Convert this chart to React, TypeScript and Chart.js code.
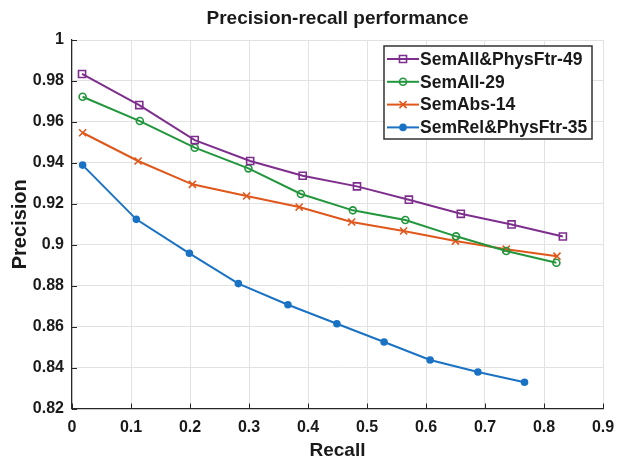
import React, { useEffect, useRef } from 'react';
import { Chart, registerables } from 'chart.js';
import { drawPoint } from 'chart.js/helpers';

Chart.register(...registerables);

const chartTitle = 'Precision-recall performance';
const xAxisLabel = 'Recall';
const yAxisLabel = 'Precision';

const xTicks = [0, 0.1, 0.2, 0.3, 0.4, 0.5, 0.6, 0.7, 0.8, 0.9];
const yTicks = [0.82, 0.84, 0.86, 0.88, 0.9, 0.92, 0.94, 0.96, 0.98, 1];

const seriesNames = ['SemAll&PhysFtr-49', 'SemAll-29', 'SemAbs-14', 'SemRel&PhysFtr-35'];
const seriesColors = ['#7E2F8E', '#22963C', '#E0571B', '#1A72C4'];

const semAllPhysRecall = [0.017, 0.114, 0.208, 0.302, 0.391, 0.483, 0.571, 0.659, 0.745, 0.832];
const semAllPhysPrecision = [0.9834, 0.9682, 0.9511, 0.9409, 0.9337, 0.9285, 0.922, 0.9151, 0.9099, 0.904];

const semAllRecall = [0.018, 0.115, 0.208, 0.299, 0.388, 0.476, 0.565, 0.651, 0.736, 0.821];
const semAllPrecision = [0.9723, 0.9604, 0.9474, 0.9373, 0.9248, 0.9168, 0.9121, 0.9041, 0.8969, 0.8912];

const semAbsRecall = [0.018, 0.112, 0.204, 0.296, 0.385, 0.474, 0.562, 0.65, 0.736, 0.822];
const semAbsPrecision = [0.9547, 0.9409, 0.9295, 0.9238, 0.9184, 0.9111, 0.9067, 0.9018, 0.8978, 0.8944];

const semRelPhysRecall = [0.018, 0.109, 0.199, 0.282, 0.366, 0.449, 0.529, 0.607, 0.688, 0.767];
const semRelPhysPrecision = [0.9389, 0.9124, 0.8958, 0.881, 0.8707, 0.8614, 0.8525, 0.8437, 0.8378, 0.8328];

const FONT = "'Liberation Sans', Arial, Helvetica, sans-serif";
const TEXT = '#1a1a1a';

const zip = (xs: number[], ys: number[]) => xs.map((x, i) => ({ x, y: ys[i] }));
const fmt = (v: number) => String(Number(Number(v).toFixed(3)));

const inwardTicks = {
  id: 'inwardTicks',
  afterDraw(chart: any) {
    const { ctx, chartArea } = chart;
    const xs = chart.scales.x;
    const ys = chart.scales.y;
    ctx.save();
    ctx.strokeStyle = '#262626';
    ctx.lineWidth = 1;
    ctx.beginPath();
    xTicks.forEach((v) => {
      const px = Math.round(xs.getPixelForValue(v)) + 0.5;
      ctx.moveTo(px, chartArea.bottom);
      ctx.lineTo(px, chartArea.bottom - 5);
    });
    yTicks.forEach((v) => {
      const py = Math.round(ys.getPixelForValue(v)) + 0.5;
      ctx.moveTo(chartArea.left, py);
      ctx.lineTo(chartArea.left + 5, py);
    });
    ctx.stroke();
    ctx.restore();
  },
};

const boxLegend = {
  id: 'boxLegend',
  afterDraw(chart: any) {
    const { ctx, chartArea } = chart;
    const boxRight = chartArea.right - 11;
    const boxTop = chartArea.top + 6;
    const boxW = 208;
    const rowH = 22.8;
    const boxH = 93;
    const boxLeft = boxRight - boxW;
    ctx.save();
    ctx.fillStyle = '#ffffff';
    ctx.fillRect(boxLeft, boxTop, boxW, boxH);
    ctx.strokeStyle = '#333333';
    ctx.lineWidth = 1.5;
    ctx.strokeRect(boxLeft, boxTop, boxW, boxH);
    chart.data.datasets.forEach((ds: any, i: number) => {
      const cy = boxTop + 13 + i * rowH;
      const x0 = boxLeft + 3;
      const x1 = boxLeft + 35;
      ctx.strokeStyle = ds.borderColor;
      ctx.lineWidth = 2;
      ctx.beginPath();
      ctx.moveTo(x0, cy);
      ctx.lineTo(x1, cy);
      ctx.stroke();
      ctx.fillStyle = ds.pointBackgroundColor;
      ctx.strokeStyle = ds.pointBorderColor;
      ctx.lineWidth = ds.pointBorderWidth;
      drawPoint(ctx, { pointStyle: ds.pointStyle, rotation: 0, borderWidth: ds.pointBorderWidth, radius: ds.pointRadius }, (x0 + x1) / 2, cy);
      ctx.fillStyle = TEXT;
      ctx.font = `bold 17.5px ${FONT}`;
      ctx.textBaseline = 'middle';
      ctx.textAlign = 'left';
      ctx.fillText(ds.label, x1 + 1, cy + 1);
    });
    ctx.restore();
  },
};

export default function App() {
  const ref = useRef<HTMLCanvasElement>(null);

  useEffect(() => {
    if (!ref.current) return;
    const mk = (i: number, xs: number[], ys: number[], style: string, radius: number, fill: string) => ({
      label: seriesNames[i],
      data: zip(xs, ys),
      borderColor: seriesColors[i],
      backgroundColor: seriesColors[i],
      pointBorderColor: seriesColors[i],
      pointBackgroundColor: fill,
      pointStyle: style,
      pointRadius: radius,
      pointBorderWidth: 1.6,
      borderWidth: 2,
      tension: 0,
      showLine: true,
    });
    const chart = new Chart(ref.current, {
      type: 'scatter',
      data: {
        datasets: [
          mk(0, semAllPhysRecall, semAllPhysPrecision, 'rect', 5, 'rgba(255,255,255,0)'),
          mk(1, semAllRecall, semAllPrecision, 'circle', 3.5, 'rgba(255,255,255,0)'),
          mk(2, semAbsRecall, semAbsPrecision, 'crossRot', 5, seriesColors[2]),
          mk(3, semRelPhysRecall, semRelPhysPrecision, 'circle', 3, seriesColors[3]),
        ] as any,
      },
      options: {
        responsive: false,
        animation: false,
        layout: { padding: { left: 0, right: 14, top: 0, bottom: 0 } },
        plugins: {
          legend: { display: false },
          tooltip: { enabled: false },
          title: {
            display: true,
            text: chartTitle,
            fullSize: false,
            color: TEXT,
            font: { family: FONT, size: 19, weight: 'bold', lineHeight: 1.2 },
            padding: { top: 7, bottom: 10.2 },
          },
        },
        scales: {
          x: {
            type: 'linear',
            min: 0,
            max: 0.9,
            afterBuildTicks: (s: any) => { s.ticks = xTicks.map((v) => ({ value: v })); },
            afterFit: (s: any) => { s.height = 51.5; s.paddingLeft = 0; s.paddingRight = 0; },
            ticks: {
              callback: (v: any) => fmt(v),
              color: TEXT,
              font: { family: FONT, size: 16, weight: 'bold', lineHeight: 1.2 },
              padding: 9.4,
              maxRotation: 0,
            },
            grid: { color: '#e2e2e2', drawTicks: false, lineWidth: 1 },
            border: { display: true, color: '#262626', width: 1.2 },
            title: {
              display: true,
              text: xAxisLabel,
              color: TEXT,
              font: { family: FONT, size: 19, weight: 'bold', lineHeight: 1 },
              padding: { top: 0, bottom: 0 },
            },
          },
          y: {
            type: 'linear',
            min: 0.82,
            max: 1,
            afterBuildTicks: (s: any) => { s.ticks = yTicks.map((v) => ({ value: v })); },
            afterFit: (s: any) => { s.width = 72; s.paddingTop = 0; s.paddingBottom = 0; },
            ticks: {
              callback: (v: any) => fmt(v),
              color: TEXT,
              font: { family: FONT, size: 16, weight: 'bold' },
              padding: 8,
            },
            grid: { color: '#e2e2e2', drawTicks: false, lineWidth: 1 },
            border: { display: true, color: '#262626', width: 1.2 },
            title: {
              display: true,
              text: yAxisLabel,
              color: TEXT,
              font: { family: FONT, size: 20, weight: 'bold', lineHeight: 1.2 },
              padding: { top: 8, bottom: 0 },
            },
          },
        },
      } as any,
      plugins: [inwardTicks, boxLegend],
    });
    return () => chart.destroy();
  }, []);

  return (
    <div style={{ position: 'fixed', left: 0, top: 0, width: 617, height: 460, background: '#fff' }}>
      <canvas ref={ref} width={617} height={460} style={{ width: 617, height: 460 }} />
    </div>
  );
}
